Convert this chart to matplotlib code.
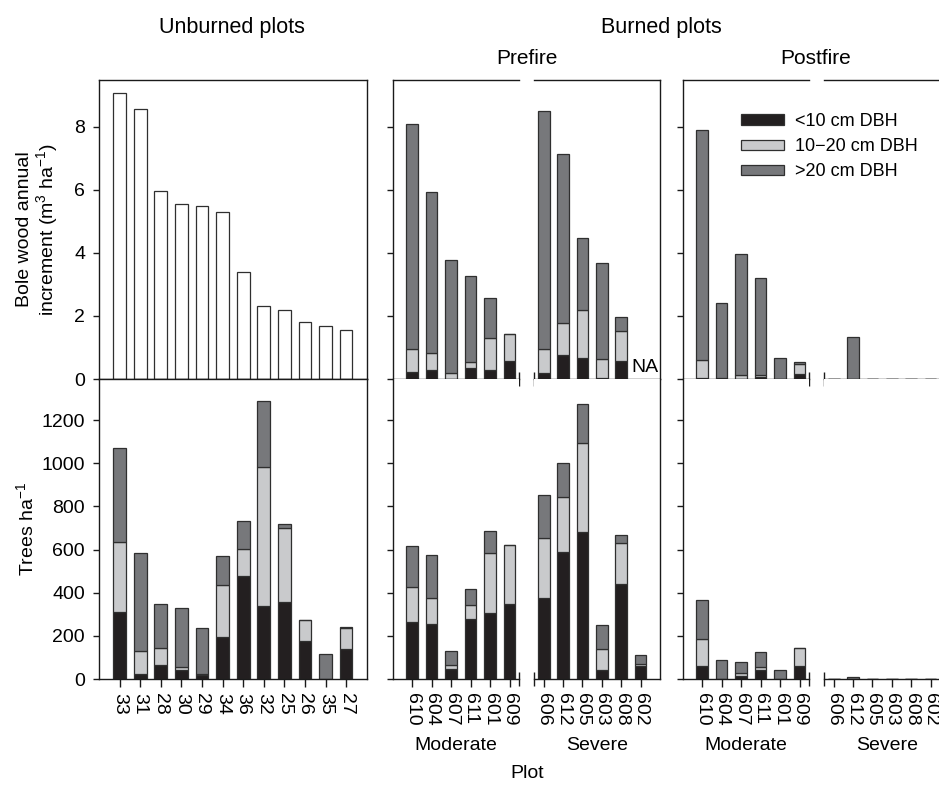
import numpy as np
import matplotlib
matplotlib.use("Agg")
import matplotlib.pyplot as plt
from matplotlib.patches import Patch

plt.rcParams['font.family'] = ['Liberation Sans', 'DejaVu Sans']
plt.rcParams['mathtext.fontset'] = 'custom'
plt.rcParams['mathtext.rm'] = 'Liberation Sans'
plt.rcParams['mathtext.it'] = 'Liberation Sans:italic'
plt.rcParams['mathtext.default'] = 'regular'

# ---------------- data ----------------
unburned_plots = ['33', '31', '28', '30', '29', '34', '36', '32', '25', '26', '35', '27']
unburned_increment = [9.08, 8.56, 5.96, 5.54, 5.47, 5.29, 3.40, 2.32, 2.19, 1.82, 1.69, 1.55]
unburned_trees_lt10 = [310, 22, 67, 40, 17, 194, 478, 338, 356, 174, 0, 141]
unburned_trees_10_20 = [323, 110, 76, 17, 6, 243, 124, 642, 344, 98, 0, 95]
unburned_trees_gt20 = [439, 452, 205, 270, 215, 135, 132, 307, 16, 0, 115, 7]

moderate_plots = ['610', '604', '607', '611', '601', '609']
severe_plots = ['606', '612', '605', '603', '608', '602']

# bole wood annual increment (m3 ha-1), prefire
pre_mod_inc_lt10 = [0.23, 0.27, 0.00, 0.35, 0.29, 0.57]
pre_mod_inc_10_20 = [0.71, 0.57, 0.20, 0.20, 1.02, 0.87]
pre_mod_inc_gt20 = [7.14, 5.08, 3.57, 2.72, 1.25, 0.00]
pre_sev_inc_lt10 = [0.20, 0.76, 0.67, 0.03, 0.57, np.nan]
pre_sev_inc_10_20 = [0.75, 1.01, 1.51, 0.61, 0.95, np.nan]
pre_sev_inc_gt20 = [7.55, 5.35, 2.28, 3.05, 0.44, np.nan]

# bole wood annual increment, postfire
post_mod_inc_lt10 = [0.03, 0.00, 0.00, 0.07, 0.00, 0.16]
post_mod_inc_10_20 = [0.57, 0.04, 0.14, 0.07, 0.00, 0.31]
post_mod_inc_gt20 = [7.30, 2.36, 3.82, 3.05, 0.67, 0.07]
post_sev_inc_lt10 = [0, 0, 0, 0, 0, 0]
post_sev_inc_10_20 = [0, 0, 0, 0, 0, 0]
post_sev_inc_gt20 = [0, 1.32, 0, 0, 0, 0]

# trees per hectare, prefire
pre_mod_trees_lt10 = [263, 253, 45, 278, 305, 347]
pre_mod_trees_10_20 = [163, 120, 22, 66, 279, 275]
pre_mod_trees_gt20 = [188, 201, 65, 71, 104, 0]
pre_sev_trees_lt10 = [375, 590, 683, 40, 440, 62]
pre_sev_trees_10_20 = [277, 253, 412, 101, 190, 9]
pre_sev_trees_gt20 = [202, 156, 178, 111, 38, 42]

# trees per hectare, postfire
post_mod_trees_lt10 = [62, 0, 12, 40, 0, 62]
post_mod_trees_10_20 = [125, 0, 14, 16, 0, 83]
post_mod_trees_gt20 = [180, 90, 53, 70, 42, 0]
post_sev_trees_lt10 = [0, 0, 0, 0, 0, 0]
post_sev_trees_10_20 = [0, 0, 0, 0, 0, 0]
post_sev_trees_gt20 = [0, 9, 0, 0, 0, 0]

size_classes = ['<10 cm DBH', '10\u221220 cm DBH', '>20 cm DBH']

# ---------------- style ----------------
C_SMALL = '#231f20'
C_MID = '#c9cacc'
C_LARGE = '#77787b'
EDGE = '#2f2f2f'
LW = 0.9
FS = 14

W, H = 939, 786
fig = plt.figure(figsize=(W / 100, H / 100), dpi=100)


def box(x0, y0, x1, y1):
    """Axes rectangle from pixel coordinates (origin top-left)."""
    return [x0 / W, 1 - y1 / H, (x1 - x0) / W, (y1 - y0) / H]


ROW_TOP = (80, 379)
ROW_BOT = (379, 679)
LEFT = (99, 366.7)
MID_MOD = (392.7, 519.3)
MID_SEV = (534, 660)
RIGHT_MOD = (682.7, 809.3)
RIGHT_SEV = (824, 950)

INC_LIM = (0, 9.48)
TREE_LIM = (0, 1390)


def style_axis(ax, left=True, right=False, top=True, bottom=True, ylabels=False):
    for side, vis in (('left', left), ('right', right), ('top', top), ('bottom', bottom)):
        ax.spines[side].set_visible(vis)
        ax.spines[side].set_linewidth(1.0)
        ax.spines[side].set_color('#1a1a1a')
    ax.tick_params(axis='y', direction='out', length=4, width=1, labelsize=FS, pad=6,
                   left=left, labelleft=ylabels, color='#1a1a1a')
    ax.tick_params(axis='x', bottom=False, labelbottom=False)


def stacked(ax, a, b, c, width):
    a = np.asarray(a, float)
    b = np.asarray(b, float)
    c = np.asarray(c, float)
    x = np.arange(len(a))
    kw = dict(width=width, edgecolor=EDGE, linewidth=LW)
    ax.bar(x, a, color=C_SMALL, **kw)
    ax.bar(x, b, bottom=a, color=C_MID, **kw)
    ax.bar(x, c, bottom=a + b, color=C_LARGE, **kw)


def xticks(ax, labels):
    ax.set_xticks(np.arange(len(labels)))
    ax.set_xticklabels(labels, rotation=-90, fontsize=FS)
    ax.tick_params(axis='x', bottom=True, labelbottom=True, direction='out',
                   length=6, width=1, pad=4, color='#1a1a1a')


def break_mark(ax, xpos, rows_px=300):
    d = 7 / rows_px
    ax.plot([xpos, xpos], [-d, d], transform=ax.transAxes, color='#1a1a1a',
            lw=1.0, clip_on=False, solid_capstyle='butt')


# ---------------- unburned ----------------
ax = fig.add_axes(box(LEFT[0], ROW_TOP[0], LEFT[1], ROW_TOP[1]))
x = np.arange(len(unburned_plots))
ax.bar(x, unburned_increment, width=0.62, color='white', edgecolor=EDGE, linewidth=LW)
ax.set_xlim(-1, 12)
ax.set_ylim(*INC_LIM)
ax.set_yticks([0, 2, 4, 6, 8])
style_axis(ax, left=True, right=True, top=True, bottom=True, ylabels=True)
ax.set_ylabel('Bole wood annual\nincrement (m$^{3}$ ha$^{-1}$)', fontsize=FS, labelpad=10,
              linespacing=1.05)

ax = fig.add_axes(box(LEFT[0], ROW_BOT[0], LEFT[1], ROW_BOT[1]))
stacked(ax, unburned_trees_lt10, unburned_trees_10_20, unburned_trees_gt20, 0.62)
ax.set_xlim(-1, 12)
ax.set_ylim(*TREE_LIM)
ax.set_yticks(np.arange(0, 1201, 200))
style_axis(ax, left=True, right=True, top=True, bottom=True, ylabels=True)
xticks(ax, unburned_plots)
ax.set_ylabel('Trees ha$^{-1}$', fontsize=FS, labelpad=3)

# ---------------- burned ----------------
columns = [
    (MID_MOD, MID_SEV, True,
     (pre_mod_inc_lt10, pre_mod_inc_10_20, pre_mod_inc_gt20),
     (pre_sev_inc_lt10, pre_sev_inc_10_20, pre_sev_inc_gt20),
     (pre_mod_trees_lt10, pre_mod_trees_10_20, pre_mod_trees_gt20),
     (pre_sev_trees_lt10, pre_sev_trees_10_20, pre_sev_trees_gt20)),
    (RIGHT_MOD, RIGHT_SEV, False,
     (post_mod_inc_lt10, post_mod_inc_10_20, post_mod_inc_gt20),
     (post_sev_inc_lt10, post_sev_inc_10_20, post_sev_inc_gt20),
     (post_mod_trees_lt10, post_mod_trees_10_20, post_mod_trees_gt20),
     (post_sev_trees_lt10, post_sev_trees_10_20, post_sev_trees_gt20)),
]

for mod_x, sev_x, right_spine, mod_inc, sev_inc, mod_trees, sev_trees in columns:
    # increment row
    am = fig.add_axes(box(mod_x[0], ROW_TOP[0], mod_x[1], ROW_TOP[1]))
    stacked(am, *mod_inc, 0.6)
    am.set_xlim(-1, 5.5)
    am.set_ylim(*INC_LIM)
    am.set_yticks([0, 2, 4, 6, 8])
    style_axis(am, left=True, right=False, top=True, bottom=True)
    break_mark(am, 1)

    asv = fig.add_axes(box(sev_x[0], ROW_TOP[0], sev_x[1], ROW_TOP[1]))
    stacked(asv, *sev_inc, 0.6)
    asv.set_xlim(-0.5, 6)
    asv.set_ylim(*INC_LIM)
    style_axis(asv, left=False, right=right_spine, top=True, bottom=True)
    asv.tick_params(axis='y', right=False, labelright=False)
    break_mark(asv, 0)
    if np.isnan(sev_inc[0][-1]):
        asv.text(5.2, 0.35, 'NA', ha='center', va='center', fontsize=FS)

    # trees row
    bm = fig.add_axes(box(mod_x[0], ROW_BOT[0], mod_x[1], ROW_BOT[1]))
    stacked(bm, *mod_trees, 0.6)
    bm.set_xlim(-1, 5.5)
    bm.set_ylim(*TREE_LIM)
    bm.set_yticks(np.arange(0, 1201, 200))
    style_axis(bm, left=True, right=False, top=False, bottom=True)
    xticks(bm, moderate_plots)
    break_mark(bm, 1)

    bs = fig.add_axes(box(sev_x[0], ROW_BOT[0], sev_x[1], ROW_BOT[1]))
    stacked(bs, *sev_trees, 0.6)
    bs.set_xlim(-0.5, 6)
    bs.set_ylim(*TREE_LIM)
    style_axis(bs, left=False, right=right_spine, top=False, bottom=True)
    bs.tick_params(axis='y', right=False, labelright=False)
    xticks(bs, severe_plots)
    break_mark(bs, 0)

    fig.text((mod_x[0] + mod_x[1]) / 2 / W, 1 - 745 / H, 'Moderate',
             ha='center', va='center', fontsize=FS)
    fig.text((sev_x[0] + sev_x[1]) / 2 / W, 1 - 745 / H, 'Severe',
             ha='center', va='center', fontsize=FS)

# ---------------- headings ----------------
fig.text(232 / W, 1 - 28 / H, 'Unburned plots', ha='center', va='center', fontsize=15.5)
fig.text(661 / W, 1 - 28 / H, 'Burned plots', ha='center', va='center', fontsize=15.5)
fig.text(527 / W, 1 - 58 / H, 'Prefire', ha='center', va='center', fontsize=15)
fig.text(816 / W, 1 - 58 / H, 'Postfire', ha='center', va='center', fontsize=15)
fig.text(527 / W, 1 - 773 / H, 'Plot', ha='center', va='center', fontsize=FS)

# ---------------- legend ----------------
handles = [Patch(facecolor=c, edgecolor=EDGE, linewidth=LW) for c in (C_SMALL, C_MID, C_LARGE)]
fig.legend(handles, size_classes, loc='upper left', bbox_to_anchor=(741 / W, 1 - 113 / H),
           frameon=False, fontsize=13, handlelength=2.4, handleheight=0.5,
           handletextpad=0.6, labelspacing=0.45, borderpad=0, borderaxespad=0)

fig.savefig('out.png', dpi=100)
